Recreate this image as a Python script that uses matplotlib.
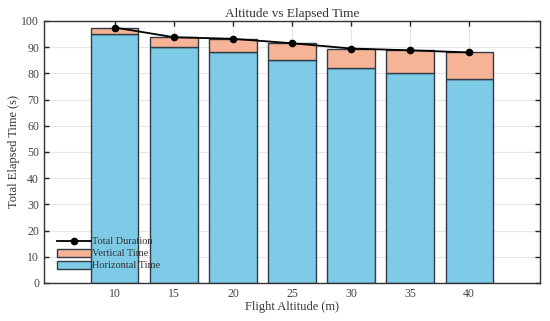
import matplotlib
matplotlib.use("Agg")
import matplotlib.pyplot as plt
import numpy as np

altitudes = [10, 15, 20, 25, 30, 35, 40]
horizontal_time = [95.0, 90.0, 88.0, 85.0, 82.0, 80.0, 78.0]
vertical_time = [2.5, 3.8, 5.2, 6.5, 7.5, 8.8, 10.0]
total_duration = [97.5, 93.8, 93.2, 91.5, 89.5, 88.8, 88.0]

plt.rcParams['font.family'] = ['Liberation Serif', 'DejaVu Serif']

fig = plt.figure(figsize=(5.5, 3.21), dpi=100)
ax = fig.add_axes([0.08, 0.1184, 0.9018, 0.8162])

ax.grid(True, color='#e6e6e6', linewidth=0.8, zorder=0)
ax.set_axisbelow(True)

b1 = ax.bar(altitudes, horizontal_time, width=4, color='#7ecbe8', edgecolor='#2f3b45',
            linewidth=1.0, label='Horizontal Time', zorder=2)
b2 = ax.bar(altitudes, vertical_time, width=4, bottom=horizontal_time, color='#f7b396',
            edgecolor='#2f3b45', linewidth=1.0, label='Vertical Time', zorder=2)
l1, = ax.plot(altitudes, total_duration, color='black', marker='o', markersize=4.5,
              linewidth=1.3, label='Total Duration', zorder=3)

ax.set_xlim(4, 46)
ax.set_ylim(0, 100)
ax.set_xticks(altitudes)
ax.set_yticks(np.arange(0, 101, 10))
ax.tick_params(direction='in', top=True, right=True, labelsize=8.5, length=3.5, width=1,
               colors='#222222', labelcolor='#444444')
for s in ax.spines.values():
    s.set_color('#333333')
    s.set_linewidth(1.0)

ax.set_title('Altitude vs Elapsed Time', fontsize=9.5, color='#333333', pad=3)
ax.set_xlabel('Flight Altitude (m)', fontsize=9, color='#333333', labelpad=1)
ax.set_ylabel('Total Elapsed Time (s)', fontsize=9, color='#333333', labelpad=1)

leg = ax.legend(handles=[l1, b2, b1], loc='lower left', frameon=False, fontsize=7.5,
                handlelength=3.2, handleheight=0.9, handletextpad=0.1, labelspacing=0.2,
                borderaxespad=0.3, bbox_to_anchor=(0.012, 0.02))
for t in leg.get_texts():
    t.set_color('#333333')

fig.savefig('out.png', dpi=100)
